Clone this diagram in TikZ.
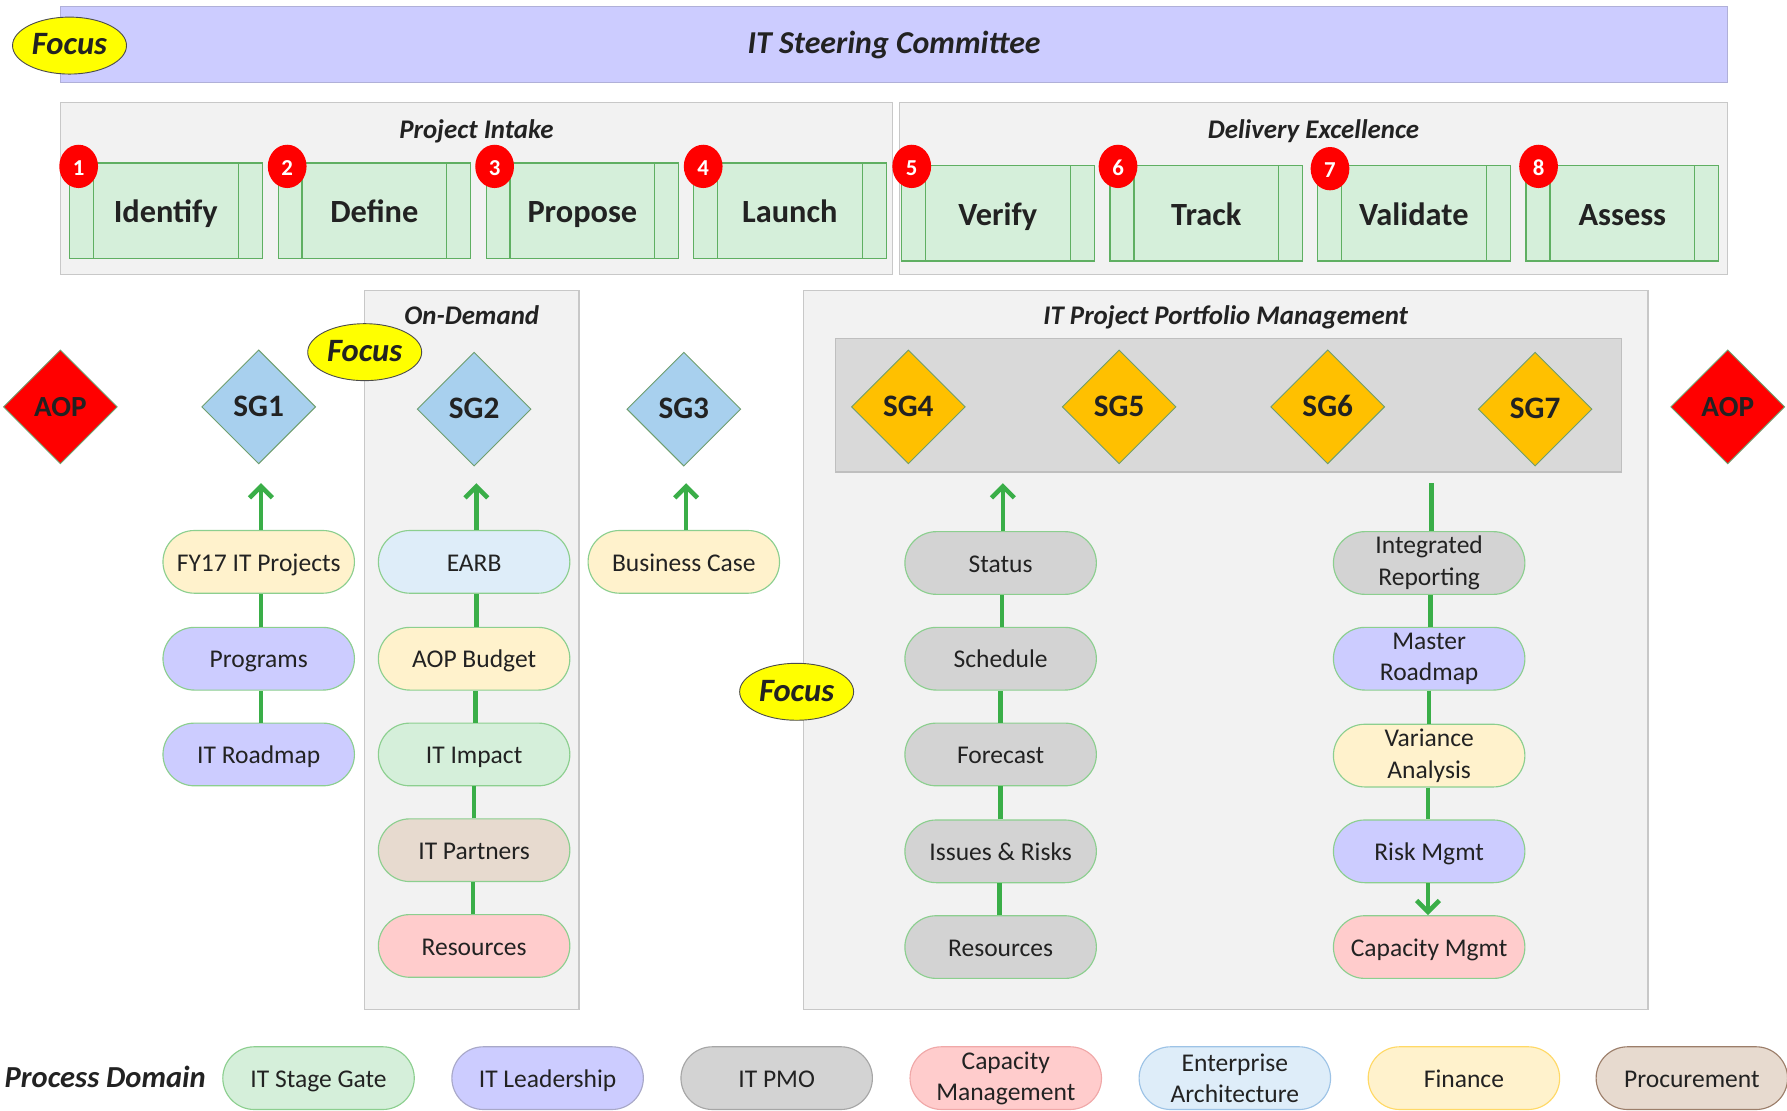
\documentclass[tikz,border=0pt]{standalone}
\usepackage{fontspec}
\setmainfont{Carlito}
\usetikzlibrary{shapes.geometric,arrows.meta}

\definecolor{ink}{HTML}{222222}
\definecolor{bannerfill}{HTML}{CCCCFF}
\definecolor{bannerline}{HTML}{B0B0D8}
\definecolor{panelfill}{HTML}{F2F2F2}
\definecolor{panelline}{HTML}{C8C8C8}
\definecolor{bandfill}{HTML}{D9D9D9}
\definecolor{bandline}{HTML}{BFBFBF}
\definecolor{stagefill}{HTML}{D5EFDA}
\definecolor{stageline}{HTML}{5FAF62}
\definecolor{gatered}{HTML}{FF0000}
\definecolor{sgblue}{HTML}{A8D0EE}
\definecolor{sggold}{HTML}{FFC000}
\definecolor{diamline}{HTML}{6E9E6E}
\definecolor{flowgreen}{HTML}{3AAE48}
\definecolor{focusyellow}{HTML}{FFFF00}
\definecolor{pillline}{HTML}{8CCF8F}
\definecolor{cream}{HTML}{FFF2CC}
\definecolor{lavender}{HTML}{CCCCFF}
\definecolor{skyfill}{HTML}{DEEDF9}
\definecolor{mint}{HTML}{D5EFDA}
\definecolor{tan}{HTML}{E7DACF}
\definecolor{rose}{HTML}{FFCCCC}
\definecolor{pmogray}{HTML}{D3D3D3}
\definecolor{lavline}{HTML}{A8A8C8}
\definecolor{grayline}{HTML}{A6A6A6}
\definecolor{roseline}{HTML}{F0A8A8}
\definecolor{skyline}{HTML}{9DC3E6}
\definecolor{creamline}{HTML}{FFD966}
\definecolor{tanline}{HTML}{9C7E6A}

\tikzset{
  oneline/.style={text height=2ex, text depth=0.3ex},
  banner/.style={draw=bannerline, line width=0.6pt, fill=bannerfill, oneline,
    font=\fontsize{14}{16}\selectfont\bfseries\itshape},
  panel/.style={draw=panelline, line width=0.6pt, fill=panelfill},
  band/.style={draw=bandline, line width=0.6pt, fill=bandfill},
  paneltitle/.style={oneline, font=\fontsize{11.8}{13}\selectfont\bfseries\itshape},
  focus/.style={ellipse, draw=black!70, line width=0.4pt, fill=focusyellow,
    minimum width=50pt, minimum height=25pt, inner sep=0pt, oneline,
    font=\fontsize{14.3}{16}\selectfont\bfseries\itshape},
  stagebox/.style={draw=stageline, line width=0.5pt, fill=stagefill,
    minimum width=84.5pt, minimum height=42pt, inner sep=0pt,
    text height=2.5ex, text depth=0.3ex,
    font=\fontsize{14.2}{16}\selectfont\bfseries,
    path picture={
      \draw[stageline, line width=0.5pt]
        ([xshift=10.5pt]path picture bounding box.north west) --
        ([xshift=10.5pt]path picture bounding box.south west)
        ([xshift=-10.5pt]path picture bounding box.north east) --
        ([xshift=-10.5pt]path picture bounding box.south east);}},
  stepnum/.style={ellipse, fill=gatered, minimum width=17pt, minimum height=19pt,
    inner sep=0pt, text=white, oneline, font=\fontsize{10}{11}\selectfont\bfseries},
  gate/.style={diamond, aspect=1, draw=diamline, line width=0.4pt,
    minimum width=50pt, minimum height=50pt, inner sep=0pt, oneline,
    font=\fontsize{13.7}{15}\selectfont\bfseries},
  sgate/.style={gate, fill=sgblue},
  ggate/.style={gate, fill=sggold},
  aop/.style={gate, fill=gatered, font=\fontsize{12.8}{14}\selectfont\bfseries},
  pilltwo/.style={draw=pillline, line width=0.5pt, rounded corners=13.75pt,
    minimum width=84pt, minimum height=27.5pt, inner sep=0.5pt, align=center,
    font=\fontsize{11.2}{13.8}\selectfont},
  pill/.style={pilltwo, oneline},
  flow/.style={draw=flowgreen, line width=2pt},
  flowarrow/.style={flow, -{Straight Barb[length=5pt,width=10pt,line width=2pt]}},
}

\begin{document}
\begin{tikzpicture}[x=0.5pt, y=-0.5pt, text=ink]
\useasboundingbox (0,0) rectangle (1568,974);

% ---- governance banner ----
\node[banner, minimum width=731.5pt, minimum height=33.5pt] (steer) at (784.5,39) {IT Steering Committee};
\node[focus] (focustop) at (61,40) {Focus};

% ---- stage gate lanes ----
\node[panel, minimum width=365pt, minimum height=75.5pt] (intake) at (418,165.5) {};
\node[paneltitle] (intaketitle) at (418,113) {Project Intake};
\node[panel, minimum width=363.5pt, minimum height=75.5pt] (delivery) at (1152.5,165.5) {};
\node[paneltitle] (deliverytitle) at (1152.5,113) {Delivery Excellence};

\node[stagebox] (identify) at (145.5,185) {Identify};
\node[stagebox] (define)   at (328.5,185) {Define};
\node[stagebox] (propose)  at (511,185)   {Propose};
\node[stagebox] (launch)   at (693,185)   {Launch};
\node[stagebox] (verify)   at (875.5,187) {Verify};
\node[stagebox] (track)    at (1058.5,187){Track};
\node[stagebox] (validate) at (1240.5,187){Validate};
\node[stagebox] (assess)   at (1423.5,187){Assess};

\node[stepnum] (n1) at (69,146)   {1};
\node[stepnum] (n2) at (252,146)  {2};
\node[stepnum] (n3) at (434,146)  {3};
\node[stepnum] (n4) at (617,146)  {4};
\node[stepnum] (n5) at (800,146)  {5};
\node[stepnum] (n6) at (981,146)  {6};
\node[stepnum] (n7) at (1167,148) {7};
\node[stepnum] (n8) at (1350,146) {8};

% ---- lower panels ----
\node[panel, minimum width=94pt, minimum height=315.5pt] (ondemand) at (414,570.5) {};
\node[paneltitle] (ondemandtitle) at (414,277) {On-Demand};
\node[panel, minimum width=370.5pt, minimum height=315.5pt] (ppm) at (1075.5,570.5) {};
\node[paneltitle] (ppmtitle) at (1075.5,277) {IT Project Portfolio Management};
\node[band, minimum width=345pt, minimum height=58.5pt] (gateband) at (1078,355.5) {};

% ---- gates ----
\node[aop]   (aopl) at (53,357)   {AOP};
\node[sgate] (sg1)  at (227,357)  {SG1};
\node[sgate] (sg2)  at (416,359)  {SG2};
\node[sgate] (sg3)  at (600,359)  {SG3};
\node[ggate] (sg4)  at (797,357)  {SG4};
\node[ggate] (sg5)  at (982,357)  {SG5};
\node[ggate] (sg6)  at (1165,357) {SG6};
\node[ggate] (sg7)  at (1347,359) {SG7};
\node[aop]   (aopr) at (1516,357) {AOP};

\node[focus] (focusmid) at (320,309) {Focus};
\node[focus] (focusppm) at (699,607) {Focus};

% ---- SG1 chain ----
\node[pill, fill=cream]    (fy17)     at (227,493) {FY17 IT Projects};
\node[pill, fill=lavender] (programs) at (227,578) {Programs};
\node[pill, fill=lavender] (roadmap)  at (227,662) {IT Roadmap};

% ---- SG2 chain ----
\node[pill, fill=skyfill] (earb)      at (416,493) {EARB};
\node[pill, fill=cream]   (aopbudget) at (416,578) {AOP Budget};
\node[pill, fill=mint]    (impact)    at (416,662) {IT Impact};
\node[pill, fill=tan]     (partners)  at (416,746) {IT Partners};
\node[pill, fill=rose]    (resod)     at (416,830) {Resources};

% ---- SG3 ----
\node[pill, fill=cream] (bizcase) at (600,493) {Business Case};

% ---- SG4 chain ----
\node[pill, fill=pmogray] (status)   at (878,494) {Status};
\node[pill, fill=pmogray] (schedule) at (878,578) {Schedule};
\node[pill, fill=pmogray] (forecast) at (878,662) {Forecast};
\node[pill, fill=pmogray] (issues)   at (878,747) {Issues \& Risks};
\node[pill, fill=pmogray] (resppm)   at (878,831) {Resources};

% ---- reporting chain ----
\node[pilltwo, fill=pmogray]  (intrep)   at (1254,494) {Integrated\\Reporting};
\node[pilltwo, fill=lavender] (master)   at (1254,578) {Master\\Roadmap};
\node[pilltwo, fill=cream]    (variance) at (1254,663) {Variance\\Analysis};
\node[pill, fill=lavender]    (risk)     at (1254,747) {Risk Mgmt};
\node[pill, fill=rose]        (capacity) at (1254,831) {Capacity Mgmt};

% ---- connectors ----
\coordinate (up1) at (229,424);
\coordinate (up2) at (418,424);
\coordinate (up3) at (602,424);
\coordinate (up4) at (880,424);
\coordinate (top6) at (1256,424);

\draw[flowarrow] ([xshift=1pt]fy17.north) -- (up1);
\draw[flow] ([xshift=1pt]programs.north) -- ([xshift=1pt]fy17.south);
\draw[flow] ([xshift=1pt]roadmap.north) -- ([xshift=1pt]programs.south);

\draw[flowarrow] ([xshift=1pt]earb.north) -- (up2);
\draw[flow] ([xshift=1pt]aopbudget.north) -- ([xshift=1pt]earb.south);
\draw[flow] ([xshift=0.5pt]impact.north) -- ([xshift=0.5pt]aopbudget.south);
\draw[flow] (partners.north) -- (impact.south);
\draw[flow] ([xshift=-0.5pt]resod.north) -- ([xshift=-0.5pt]partners.south);

\draw[flowarrow] ([xshift=1pt]bizcase.north) -- (up3);

\draw[flowarrow] ([xshift=1pt]status.north) -- (up4);
\draw[flow] ([xshift=0.5pt]schedule.north) -- ([xshift=0.5pt]status.south);
\draw[flow] (forecast.north) -- (schedule.south);
\draw[flow] (issues.north) -- (forecast.south);
\draw[flow] ([xshift=-0.5pt]resppm.north) -- ([xshift=-0.5pt]issues.south);

\draw[flow] (top6) -- (top6 |- intrep.north);
\draw[flow] ([xshift=0.5pt]intrep.south) -- ([xshift=0.5pt]master.north);
\draw[flow] (master.south) -- (variance.north);
\draw[flow] ([xshift=-0.5pt]variance.south) -- ([xshift=-0.5pt]risk.north);
\draw[flowarrow] ([xshift=-0.5pt]risk.south) -- ([xshift=-0.5pt]capacity.north);

% ---- legend ----
\node[anchor=east, oneline, inner sep=0pt, font=\fontsize{13.4}{15}\selectfont\bfseries\itshape] (domain) at (181,946) {Process Domain};
\node[pill, fill=mint, draw=pillline]        (lgstage)  at (279.5,946)  {IT Stage Gate};
\node[pill, fill=lavender, draw=lavline]     (lglead)   at (480.5,946)  {IT Leadership};
\node[pill, fill=pmogray, draw=grayline]     (lgpmo)    at (681.5,946)  {IT PMO};
\node[pilltwo, fill=rose, draw=roseline]     (lgcap)    at (882.5,946)  {Capacity\\Management};
\node[pilltwo, fill=skyfill, draw=skyline]   (lgea)     at (1083.5,946) {Enterprise\\Architecture};
\node[pill, fill=cream, draw=creamline]      (lgfin)    at (1284.5,946) {Finance};
\node[pill, fill=tan, draw=tanline]          (lgproc)   at (1484.5,946) {Procurement};
\end{tikzpicture}
\end{document}
